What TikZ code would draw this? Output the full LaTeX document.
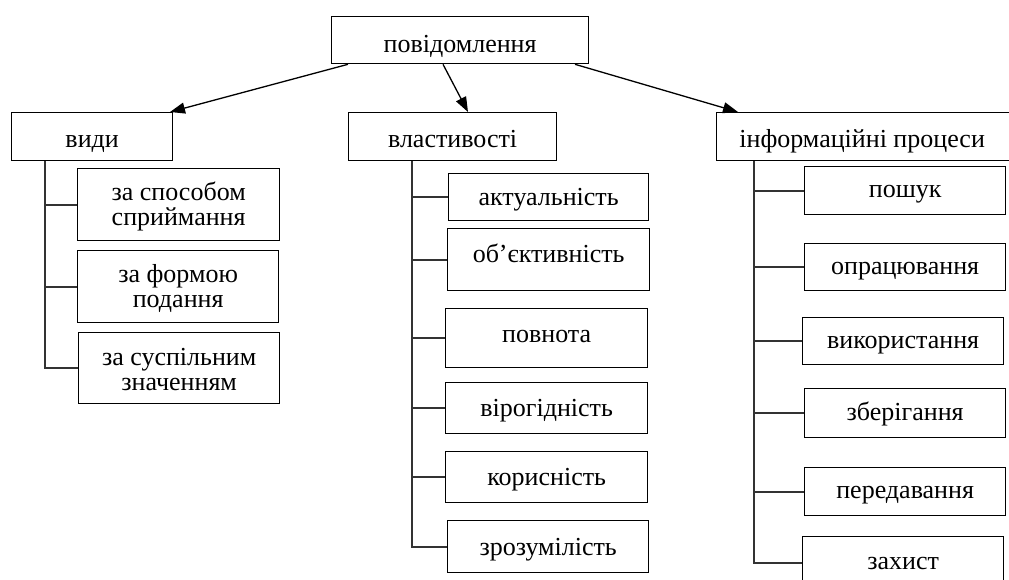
\documentclass[tikz,border=0pt]{standalone}
\usepackage{fontspec}
\setmainfont{Liberation Serif}
\usetikzlibrary{arrows.meta}
\begin{document}
\begin{tikzpicture}[x=1pt,y=1pt,
  box/.style={draw, line width=1.3pt, inner sep=0pt, align=center, anchor=north west,
    text height=19pt, text depth=2pt,
    font=\fontsize{26}{25}\selectfont},
  lvl/.style={box, text height=24pt},
  leaf/.style={box, text height=16pt},
  two/.style={box, text height=44pt},
  arr/.style={line width=1.3pt, -{Triangle[length=15pt,width=11pt]}},
  link/.style={line width=1.7pt, draw=black!80}]
\useasboundingbox (0,0) rectangle (1009,-579);
\clip (0,0) rectangle (1009,-579);
% top
\node[box, text height=27pt, minimum width=257pt, minimum height=47pt] (top) at (331,-16) {повідомлення};
% level 1
\node[lvl, minimum width=161pt, minimum height=48pt] (vidy) at (11,-112) {види};
\node[lvl, minimum width=208pt, minimum height=48pt] (vlast) at (348,-112) {властивості};
\node[lvl, minimum width=300pt, minimum height=48pt] (inf) at (716,-112) {\hspace*{-9pt}інформаційні процеси};
% arrows
\draw[arr] ([xshift=17pt]top.south west) -- ([xshift=159pt]vidy.north west);
\draw[arr] ([xshift=112pt]top.south west) -- ([xshift=120pt]vlast.north west);
\draw[arr] ([xshift=244pt]top.south west) -- ([xshift=22pt]inf.north west);
% left children
\node[two, minimum width=202pt, minimum height=72pt] (a1) at (77,-168) {за способом\\сприймання};
\node[two, minimum width=201pt, minimum height=72pt] (a2) at (77,-250) {за формою\\подання};
\node[two, text height=47pt, minimum width=201pt, minimum height=71pt] (a3) at (78,-332) {за суспільним\\значенням};
% middle children
\node[box, minimum width=200pt, minimum height=47pt] (b1) at (448,-173) {актуальність};
\node[box, text height=8pt, minimum width=202pt, minimum height=62pt] (b2) at (447,-228) {об’єктивність};
\node[box, text height=11pt, minimum width=202pt, minimum height=59pt] (b3) at (445,-308) {повнота};
\node[box, minimum width=202pt, minimum height=51pt] (b4) at (445,-382) {вірогідність};
\node[box, minimum width=202pt, minimum height=51pt] (b5) at (445,-451) {корисність};
\node[box, minimum width=201pt, minimum height=52pt] (b6) at (447,-520) {зрозумілість};
% right children
\node[leaf, minimum width=201pt, minimum height=48pt] (c1) at (804,-166) {пошук};
\node[leaf, minimum width=201pt, minimum height=47pt] (c2) at (804,-243) {опрацювання};
\node[leaf, minimum width=201pt, minimum height=47pt] (c3) at (802,-317) {використання};
\node[leaf, minimum width=201pt, minimum height=49pt] (c4) at (804,-388) {зберігання};
\node[leaf, minimum width=201pt, minimum height=48pt] (c5) at (804,-467) {передавання};
\node[leaf, minimum width=201pt, minimum height=52pt] (c6) at (802,-536) {захист};
% trunks
\coordinate (t1) at ([xshift=34pt]vidy.south west);
\coordinate (t2) at ([xshift=64pt]vlast.south west);
\coordinate (t3) at ([xshift=38pt]inf.south west);
\foreach \n in {a1,a2,a3} \draw[link] (t1) |- (\n.west);
\foreach \n in {b1,b2,b3,b4,b5,b6} \draw[link] (t2) |- (\n.west);
\foreach \n in {c1,c2,c3,c4,c5,c6} \draw[link] (t3) |- (\n.west);
\end{tikzpicture}
\end{document}
